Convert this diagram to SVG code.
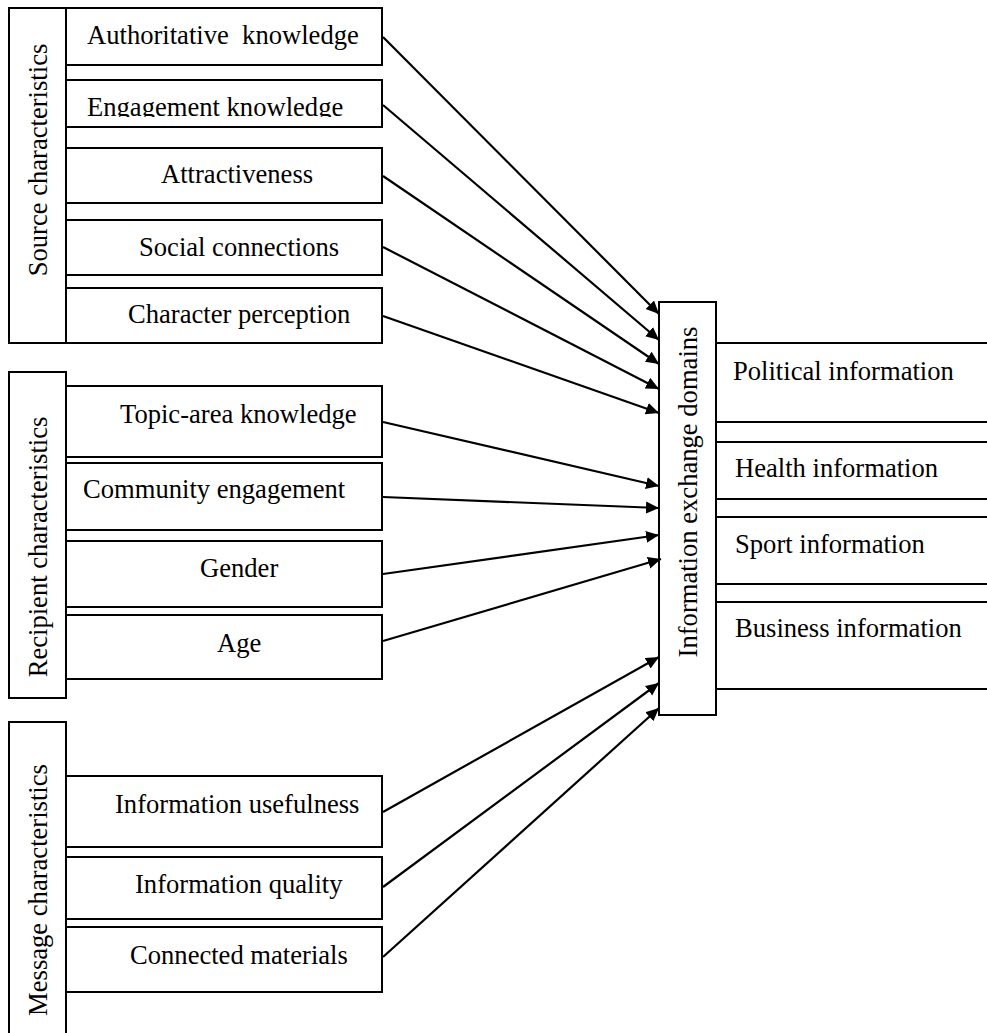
<svg xmlns="http://www.w3.org/2000/svg" width="987" height="1033" viewBox="0 0 987 1033">
<style>
.b{fill:#fff;stroke:#000;stroke-width:2}
.t{font-family:"Liberation Serif","Times New Roman",serif;font-size:26.6px;fill:#000}
.v{text-anchor:middle}
.c{stroke:#000;stroke-width:2.2;fill:none;marker-end:url(#ah)}
</style>
<defs>
<marker id="ah" markerUnits="userSpaceOnUse" markerWidth="16" markerHeight="14" refX="13" refY="6" orient="auto">
<path d="M0,0 L13,6 L0,12 Z" fill="#000"/>
</marker>
<clipPath id="clipEng"><rect x="66" y="80" width="316" height="37"/></clipPath>
</defs>
<rect width="987" height="1033" fill="#fff"/>

<g id="source">
<rect class="b" x="9" y="8" width="57" height="335"/>
<text class="t v" transform="translate(47,160) rotate(-90)">Source characteristics</text>
</g>
<g id="authoritative">
<rect class="b" x="66" y="8" width="316" height="57"/>
<text class="t" x="87" y="44" xml:space="preserve" style="white-space:pre">Authoritative  knowledge</text>
</g>
<g id="engagement">
<rect class="b" x="66" y="80" width="316" height="47"/>
<text class="t" x="87" y="116" clip-path="url(#clipEng)">Engagement knowledge</text>
</g>
<g id="attractiveness">
<rect class="b" x="66" y="148" width="316" height="55"/>
<text class="t" x="161" y="183">Attractiveness</text>
</g>
<g id="social">
<rect class="b" x="66" y="220" width="316" height="55"/>
<text class="t" x="139" y="256">Social connections</text>
</g>
<g id="character">
<rect class="b" x="66" y="288" width="316" height="55"/>
<text class="t" x="128" y="323">Character perception</text>
</g>

<g id="recipient">
<rect class="b" x="9" y="372" width="57" height="326"/>
<text class="t v" transform="translate(47,547) rotate(-90)">Recipient characteristics</text>
</g>
<g id="topic">
<rect class="b" x="66" y="386" width="316" height="71"/>
<text class="t" x="120" y="423">Topic-area knowledge</text>
</g>
<g id="community">
<rect class="b" x="66" y="463" width="316" height="67"/>
<text class="t" x="83" y="498">Community engagement</text>
</g>
<g id="gender">
<rect class="b" x="66" y="541" width="316" height="66"/>
<text class="t" x="200" y="577">Gender</text>
</g>
<g id="age">
<rect class="b" x="66" y="615" width="316" height="64"/>
<text class="t" x="217" y="652">Age</text>
</g>

<g id="message">
<rect class="b" x="9" y="722" width="57" height="330"/>
<text class="t v" transform="translate(47,890) rotate(-90)">Message characteristics</text>
</g>
<g id="usefulness">
<rect class="b" x="66" y="776" width="316" height="71"/>
<text class="t" x="115" y="813">Information usefulness</text>
</g>
<g id="quality">
<rect class="b" x="66" y="857" width="316" height="62"/>
<text class="t" x="135" y="893">Information quality</text>
</g>
<g id="connected">
<rect class="b" x="66" y="927" width="316" height="65"/>
<text class="t" x="130" y="964">Connected materials</text>
</g>

<g id="domains">
<rect class="b" x="659" y="302" width="57" height="413"/>
<text class="t v" transform="translate(697,492) rotate(-90)">Information exchange domains</text>
</g>
<g id="political">
<rect class="b" x="716" y="343" width="290" height="79"/>
<text class="t" x="733" y="380">Political information</text>
</g>
<g id="health">
<rect class="b" x="716" y="442" width="290" height="57"/>
<text class="t" x="735" y="477">Health information</text>
</g>
<g id="sport">
<rect class="b" x="716" y="517" width="290" height="67"/>
<text class="t" x="735" y="553">Sport information</text>
</g>
<g id="business">
<rect class="b" x="716" y="602" width="290" height="87"/>
<text class="t" x="735" y="637">Business information</text>
</g>

<g id="connectors">
<line class="c" x1="383" y1="37" x2="659" y2="314"/>
<line class="c" x1="383" y1="105" x2="659" y2="340"/>
<line class="c" x1="383" y1="176" x2="659" y2="364"/>
<line class="c" x1="383" y1="247" x2="659" y2="389"/>
<line class="c" x1="383" y1="316" x2="659" y2="413"/>
<line class="c" x1="383" y1="422" x2="659" y2="486"/>
<line class="c" x1="383" y1="497" x2="659" y2="508"/>
<line class="c" x1="383" y1="574" x2="659" y2="535"/>
<line class="c" x1="383" y1="641" x2="661" y2="559"/>
<line class="c" x1="383" y1="812" x2="659" y2="657"/>
<line class="c" x1="383" y1="887" x2="659" y2="683"/>
<line class="c" x1="383" y1="957" x2="659" y2="708"/>
</g>
</svg>
